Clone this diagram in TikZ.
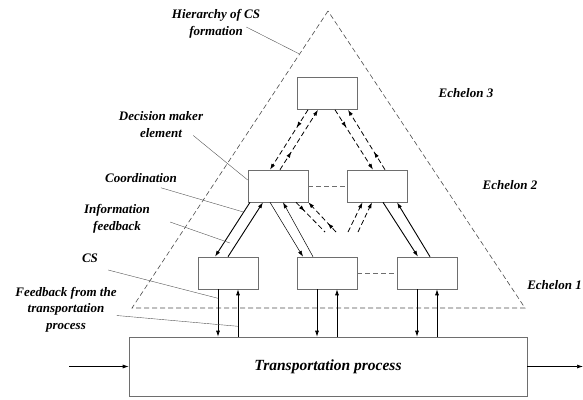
\documentclass[tikz,border=0pt]{standalone}
\usepackage{fontspec}
\setmainfont{Liberation Serif}
\usetikzlibrary{arrows.meta,positioning,decorations.markings}
\definecolor{boxline}{HTML}{6E6E6E}
\definecolor{leadgray}{HTML}{555555}
\tikzset{
  dmbox/.style={
    rectangle, draw=boxline, line width=0.6pt, fill=white,
    minimum width=60pt, minimum height=32pt, inner sep=0pt
  },
  procbox/.style={
    rectangle, draw=boxline, line width=0.6pt,
    minimum width=398pt, minimum height=59pt,
    font=\fontsize{15.5}{18}\selectfont\bfseries\itshape
  },
  lbl/.style={inner sep=0pt, align=center, font=\fontsize{13}{16.5}\selectfont\bfseries\itshape},
  leader/.style={draw=leadgray, line width=0.4pt},
  tri/.style={draw=black!70, line width=0.6pt, dash pattern=on 5pt off 3pt},
  linkdash/.style={draw=boxline, line width=0.8pt, dash pattern=on 5pt off 3pt},
  solidarrow/.style={-{Latex[length=6pt,width=4pt]}, line width=0.9pt},
  thinarrow/.style={-{Latex[length=6pt,width=4pt]}, line width=0.5pt},
  vertarrow/.style={-{Latex[length=6pt,width=4pt]}, line width=0.7pt},
  dashend/.style={-{Latex[length=6pt,width=4pt]}, line width=0.8pt, dash pattern=on 5pt off 3pt},
  dashmid/.style={
    line width=0.8pt, dash pattern=on 5pt off 3pt, postaction={decorate},
    decoration={markings, mark=at position 0.3 with {\arrow{Latex[length=6pt,width=4pt]}}}
  },
  dasharrow/.style={dashmid, -{Latex[length=6pt,width=4pt]}},
}

\begin{document}
\begin{tikzpicture}[x=1pt, y=-1pt]
  \useasboundingbox (0,0) rectangle (583,399);
  % hierarchy triangle
  \coordinate (apex) at (328,11);
  \coordinate (lc) at (132,308);
  \coordinate (rc) at (525,308);
  \draw[tri] (apex) -- (lc) -- (rc) -- cycle;

  % decision makers and the process
  \node[dmbox] (dm3) at (327.5,93.5) {};
  \node[dmbox] (dm2a) at (278,186) {};
  \node[dmbox] (dm2b) at (377.5,186) {};
  \node[dmbox] (dm1a) at (228,273) {};
  \node[dmbox] (dm1b) at (327,273) {};
  \node[dmbox] (dm1c) at (427,273) {};
  \node[procbox] (tp) at (328,366.5) {Transportation process};

  \draw[linkdash] (dm2a) -- (dm2b);
  \draw[linkdash] (dm1b) -- (dm1c);

  % echelon 3 <-> echelon 2
  \draw[dasharrow] ([xshift=-19.5pt]dm3.south) -- ([xshift=-8pt]dm2a.north);
  \draw[dasharrow] ([xshift=2pt]dm2a.north) -- ([xshift=-9.5pt]dm3.south);
  \draw[dasharrow] ([xshift=7.5pt]dm3.south) -- ([xshift=-4.5pt]dm2b.north);
  \draw[dasharrow] ([xshift=7.5pt]dm2b.north) -- ([xshift=20.5pt]dm3.south);

  % open dashed links below echelon 2
  \coordinate (va) at (325,232);
  \coordinate (vb) at (336,232);
  \coordinate (vc) at (348,232);
  \coordinate (vd) at (358,232);
  \draw[dashmid] ([xshift=18pt]dm2a.south) -- (va);
  \draw[dasharrow] (vb) -- (dm2a.south east);
  \draw[dashend] (vc) -- ([xshift=-15pt]dm2b.south);
  \draw[dashend] (vd) -- ([xshift=-5.5pt]dm2b.south);

  % echelon 2 <-> echelon 1
  \draw[solidarrow] ([xshift=-28pt]dm2a.south) -- ([xshift=-13pt]dm1a.north);
  \draw[solidarrow] (dm1a.north) -- ([xshift=-15pt]dm2a.south);
  \draw[thinarrow] ([xshift=-8pt]dm2a.south) -- ([xshift=-24pt]dm1b.north);
  \draw[thinarrow] ([xshift=-14pt]dm1b.north) -- ([xshift=5pt]dm2a.south);
  \draw[solidarrow] ([xshift=5.5pt]dm2b.south) -- ([xshift=-9pt]dm1c.north);
  \draw[solidarrow] ([xshift=3pt]dm1c.north) -- ([xshift=19.5pt]dm2b.south);

  % echelon 1 <-> transportation process
  \foreach \b in {dm1a,dm1b,dm1c} {
    \draw[vertarrow] ([xshift=-10pt]\b.south) -- ([xshift=-10pt]\b.south |- tp.north);
    \draw[vertarrow] ([xshift=10pt]\b.south |- tp.north) -- ([xshift=10pt]\b.south);
  }
  \coordinate (inp) at (69,366.5);
  \coordinate (outp) at (583,366.5);
  \draw[vertarrow] (inp) -- (tp.west);
  \draw[vertarrow] (tp.east) -- (outp);

  % labels
  \node[lbl] (lblhier) at (216,24) {Hierarchy of CS\\formation};
  \node[lbl] (lbldm) at (161,124.5) {Decision maker\\element};
  \node[lbl] (lblcoord) at (141,178) {Coordination};
  \node[lbl] (lblinfo) at (117,219) {Information\\feedback};
  \node[lbl] (lblcs) at (90,258) {CS};
  \node[lbl] (lblfb) at (66,309.5) {Feedback from the\\transportation\\process};
  \node[lbl] (ech3) at (466,93) {Echelon 3};
  \node[lbl] (ech2) at (510,185) {Echelon 2};
  \node[lbl, anchor=east] (ech1) at (582,285) {Echelon 1};

  % leader lines
  \path (apex) -- (lc) coordinate[pos=0.145] (hierpt);
  \path ([xshift=-28pt]dm2a.south) -- ([xshift=-13pt]dm1a.north) coordinate[pos=0.18] (coordpt);
  \coordinate (infopt) at (230,243);
  \draw[leader] ([xshift=-14pt,yshift=-3pt]lblhier.east) -- (hierpt);
  \draw[leader] ([xshift=-10pt,yshift=2pt]lbldm.south east) -- ([yshift=6pt]dm2a.west);
  \draw[leader] ([xshift=-16pt,yshift=-5pt]lblcoord.south east) -- (coordpt);
  \draw[leader] ([xshift=20pt,yshift=-3pt]lblinfo.east) -- (infopt);
  \draw[leader] ([xshift=10pt,yshift=-12pt]lblcs.east) -- ([xshift=-10pt,yshift=-9pt]dm1a.south);
  \draw[leader] ([yshift=-6pt]lblfb.east) -- ([xshift=10pt,yshift=-37pt]dm1a.south);
\end{tikzpicture}
\end{document}
